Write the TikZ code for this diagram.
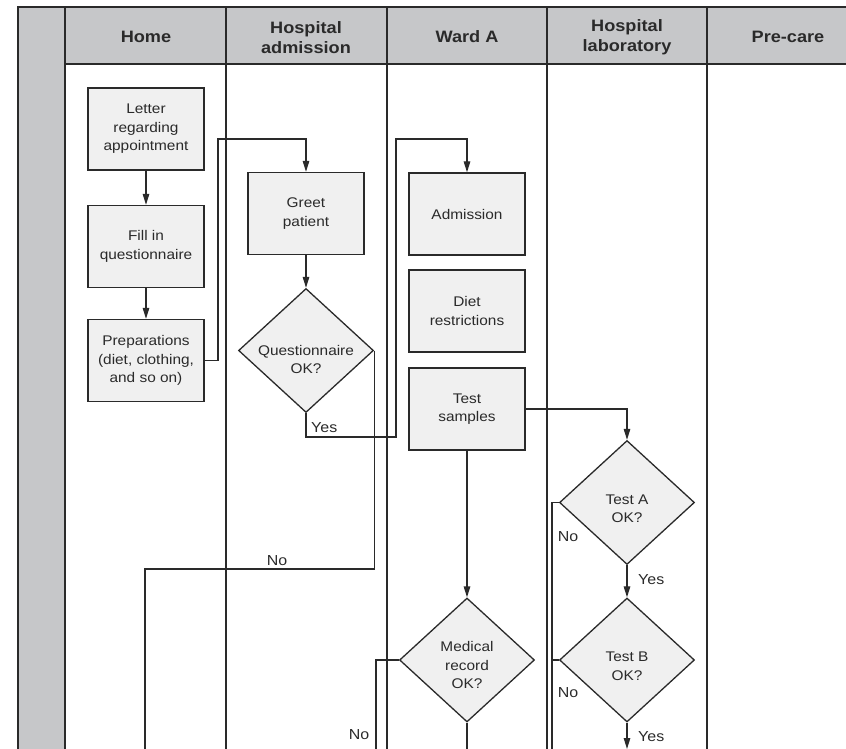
\documentclass[tikz,border=0pt]{standalone}
\usepackage{fontspec}
\setmainfont[FakeStretch=1.1]{Liberation Sans}
\usetikzlibrary{shapes.geometric,arrows.meta}
\definecolor{hdr}{HTML}{C6C7C9}
\definecolor{boxfill}{HTML}{F0F0F0}
\definecolor{ink}{HTML}{2A2A2A}
\begin{document}
\begin{tikzpicture}[x=1pt,y=-1pt,
  lane/.style={draw=ink,line width=1.5pt},
  stepbox/.style={draw=ink,fill=boxfill,line width=1.3pt,minimum width=116pt,minimum height=82pt,inner sep=0pt,align=center,text=ink,font=\fontsize{14}{18.5}\selectfont},
  decision/.style={draw=ink,fill=boxfill,line width=1.3pt,shape=diamond,minimum width=135pt,minimum height=124pt,inner sep=0pt},
  dtext/.style={align=center,text=ink,inner sep=0pt,font=\fontsize{14}{18.5}\selectfont},
  hdrtext/.style={align=center,text=ink,inner sep=0pt,font=\fontsize{16.5}{20}\selectfont\bfseries},
  lbl/.style={text=ink,inner sep=0pt,font=\fontsize{14.5}{16}\selectfont},
  conn/.style={draw=ink,line width=1.3pt,-{Triangle[width=6.5pt,length=11pt]}},
  plain/.style={draw=ink,line width=1.3pt}]
\useasboundingbox (0,0) rectangle (846,749);
% background: header and left strip
\fill[hdr] (65,7) rectangle (850,64);
\fill[hdr] (18,7) rectangle (65,752);
\draw[lane] (18,752) -- (18,7) -- (850,7);
\draw[lane] (65,64) -- (850,64);
\foreach \xx in {65,226,387,547,707} \draw[lane] (\xx,7) -- (\xx,752);
% headers
\node[hdrtext] (hhome) at (146,36.5) {Home};
\node[hdrtext] (hadm) at (306,37.5) {Hospital\\admission};
\node[hdrtext] (hward) at (467,36.5) {Ward A};
\node[hdrtext] (hlab) at (627,37.5) {Hospital\\laboratory};
\node[hdrtext] (hpre) at (788,36.5) {Pre-care};
% process boxes
\node[stepbox] (letter) at (146,129) {Letter\\regarding\\appointment};
\node[stepbox] (fill) at (146,246.5) {Fill in\\questionnaire};
\node[stepbox] (prep) at (146,360.5) {Preparations\\(diet, clothing,\\and so on)};
\node[stepbox] (greet) at (306,213.5) {Greet\\patient};
\node[stepbox] (adm) at (467,214) {Admission};
\node[stepbox] (diet) at (467,311) {Diet\\restrictions};
\node[stepbox] (ts) at (467,409) {Test\\samples};
% decisions
\node[decision] (q) at (306,350.5) {};
\node[dtext] (qt) at ([yshift=-9pt]q.center) {Questionnaire\\OK?};
\node[decision] (ta) at (627,502.5) {};
\node[dtext] (tat) at ([yshift=-6pt]ta.center) {Test A\\OK?};
\node[decision] (tb) at (627,660) {};
\node[dtext] (tbt) at ([yshift=-6pt]tb.center) {Test B\\OK?};
\node[decision] (med) at (467,660) {};
\node[dtext] (medt) at ([yshift=-5pt]med.center) {Medical\\record\\OK?};
% routing points
\coordinate (c1) at (218,139);
\coordinate (c2) at (396,437);
\coordinate (c3) at (396,139);
\coordinate (c4) at (145,569);
\coordinate (e1) at (145,752);
\coordinate (e2) at (376,752);
\coordinate (e3) at (467,752);
\coordinate (e4) at (552,752);
\coordinate (e5) at (627,749);
% connectors
\draw[conn] (letter) -- (fill);
\draw[conn] (fill) -- (prep);
\draw[conn] (prep.east) -| (c1) -| (greet.north);
\draw[conn] (greet) -- (q);
\draw[conn] (q.south) |- (c2) -- (c3) -| (adm.north);
\draw[plain] (q.east) |- (c4) -- (e1);
\draw[conn] (ts.east) -| (ta.north);
\draw[conn] (ts) -- (med);
\draw[plain] (med.west) -| (e2);
\draw[plain] (med.south) -- (e3);
\draw[conn] (ta) -- (tb);
\draw[plain] (ta.west) -| (e4);
\draw[plain] (tb.west) -- (tb.west -| e4);
\draw[conn] (tb.south) -- (e5);
% labels
\node[lbl,anchor=west] (yes1) at (311,428) {Yes};
\node[lbl] (no1) at (277,561) {No};
\node[lbl] (no2) at (359,735) {No};
\node[lbl] (no3) at (568,537) {No};
\node[lbl,anchor=west] (yes2) at (638,580) {Yes};
\node[lbl] (no4) at (568,693) {No};
\node[lbl,anchor=west] (yes3) at (638,737) {Yes};
\end{tikzpicture}
\end{document}
